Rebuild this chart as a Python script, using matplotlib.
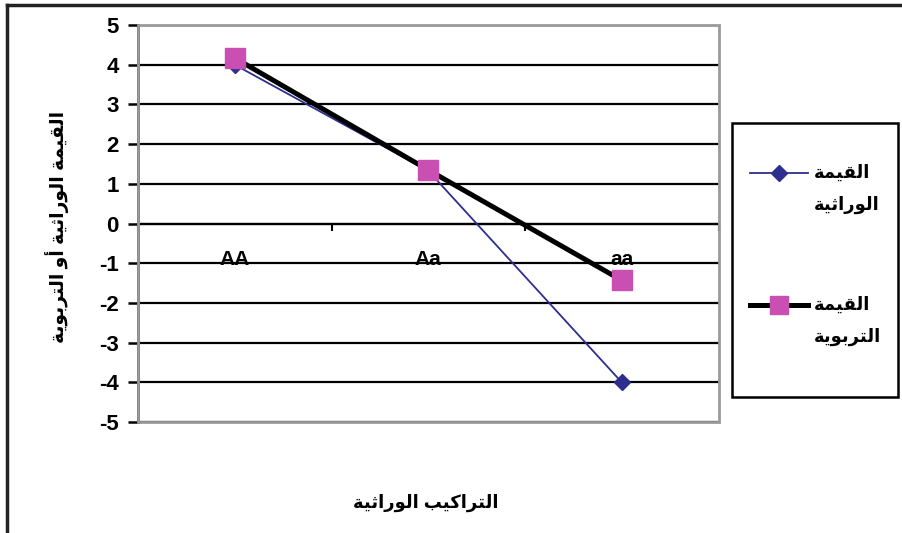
import numpy as np
import matplotlib.pyplot as plt
from matplotlib.lines import Line2D
from matplotlib.patches import Rectangle

# Arabic letters: (isolated, final, initial, medial); None = does not join forward
FORMS = {
    'ا': ('\uFE8D', '\uFE8E', None, None),
    'أ': ('\uFE83', '\uFE84', None, None),
    'ب': ('\uFE8F', '\uFE90', '\uFE91', '\uFE92'),
    'ة': ('\uFE93', '\uFE94', None, None),
    'ت': ('\uFE95', '\uFE96', '\uFE97', '\uFE98'),
    'ث': ('\uFE99', '\uFE9A', '\uFE9B', '\uFE9C'),
    'ر': ('\uFEAD', '\uFEAE', None, None),
    'و': ('\uFEED', '\uFEEE', None, None),
    'ق': ('\uFED5', '\uFED6', '\uFED7', '\uFED8'),
    'ك': ('\uFED9', '\uFEDA', '\uFEDB', '\uFEDC'),
    'ل': ('\uFEDD', '\uFEDE', '\uFEDF', '\uFEE0'),
    'م': ('\uFEE1', '\uFEE2', '\uFEE3', '\uFEE4'),
    'ي': ('\uFEF1', '\uFEF2', '\uFEF3', '\uFEF4'),
}


def ar(text):
    """shape arabic letters + reverse, since matplotlib has no bidi"""
    out = []
    for i, ch in enumerate(text):
        if ch not in FORMS:
            out.append(ch)
            continue
        prev = text[i - 1] if i > 0 else ''
        nxt = text[i + 1] if i + 1 < len(text) else ''
        joins_prev = prev in FORMS and FORMS[prev][2] is not None
        joins_next = FORMS[ch][2] is not None and nxt in FORMS
        iso, fin, ini, med = FORMS[ch]
        if joins_prev and joins_next:
            out.append(med)
        elif joins_prev:
            out.append(fin)
        elif joins_next:
            out.append(ini)
        else:
            out.append(iso)
    return ''.join(out)[::-1]


genotypes = ['AA', 'Aa', 'aa']
genetic_value = [4.0, 1.33, -4.0]
breeding_value = [4.17, 1.35, -1.43]
yticks = list(range(-5, 6))

label_genetic = ['القيمة', 'الوراثية']
label_breeding = ['القيمة', 'التربوية']
ylabel = 'القيمة الوراثية أو التربوية'
xlabel = 'التراكيب الوراثية'

blue = '#2E2E8F'
pink = '#C94FB3'

plt.rcParams['font.family'] = ['Liberation Sans', 'DejaVu Sans']
plt.rcParams['font.weight'] = 'bold'

fig = plt.figure(figsize=(9.03, 5.33), dpi=100)
ax = fig.add_axes([0.1528, 0.208, 0.643, 0.745])

x = np.arange(len(genotypes)) + 0.5
ax.plot(x, genetic_value, color=blue, lw=1.3, marker='D', ms=8, zorder=4)
ax.plot(x, breeding_value, color='black', lw=3.6, marker='s', ms=15,
        mfc=pink, mec=pink, zorder=5)

ax.set_xlim(0, 3)
ax.set_ylim(-5, 5)
ax.set_yticks(yticks)
ax.set_yticklabels([str(v) for v in yticks], fontsize=16, fontweight='bold')
ax.yaxis.grid(True, color='black', lw=1.6)
ax.set_axisbelow(True)

# category axis crosses at 0
ax.spines['bottom'].set_position(('data', 0))
ax.spines['bottom'].set_linewidth(1.6)
ax.set_xticks([0, 1, 2, 3])
ax.set_xticklabels([])
ax.tick_params(axis='x', direction='out', length=5, width=1.5)
ax.tick_params(axis='y', direction='out', length=7, width=1.8, pad=7)
ax.spines['left'].set_linewidth(2)
for s in ['top', 'right']:
    ax.spines[s].set_visible(False)
ax.add_patch(Rectangle((0, 0), 1, 1, transform=ax.transAxes, fill=False,
                       edgecolor='#9A9A9A', lw=2, zorder=3, clip_on=False))

for xi, g in zip(x, genotypes):
    ax.text(xi, -0.9, g, ha='center', va='center', fontsize=15,
            fontweight='bold', zorder=6)

fig.text(0.063, 0.575, ar(ylabel), rotation=90, ha='center', va='center',
         fontsize=13.5, fontweight='bold')
fig.text(0.472, 0.057, ar(xlabel), ha='center', va='center',
         fontsize=13, fontweight='bold')

# legend, Excel style: sample next to the first text line
fig.add_artist(Rectangle((0.811, 0.255), 0.183, 0.514, transform=fig.transFigure,
                         fill=False, edgecolor='black', lw=1.8))
entries = [
    (label_genetic, blue, 1.3, dict(marker='D', ms=8, mfc=blue, mec=blue), 0.6754),
    (label_breeding, 'black', 3.6, dict(marker='s', ms=13, mfc=pink, mec=pink), 0.4278),
]
for lines, col, lw, mk, y0 in entries:
    fig.add_artist(Line2D([0.8306, 0.8948], [y0, y0], color=col, lw=lw))
    fig.add_artist(Line2D([0.8627], [y0], linestyle='none', **mk))
    for j, t in enumerate(lines):
        fig.text(0.901, y0 - j * 0.060, ar(t), ha='left', va='center',
                 fontsize=13, fontweight='bold')

# outer chart border (top + left visible)
fig.add_artist(Line2D([0.008, 1.0], [0.99, 0.99], color='#222222', lw=2.5))
fig.add_artist(Line2D([0.008, 0.008], [0.0, 0.99], color='#222222', lw=2.5))

fig.savefig('out.png', dpi=100)
